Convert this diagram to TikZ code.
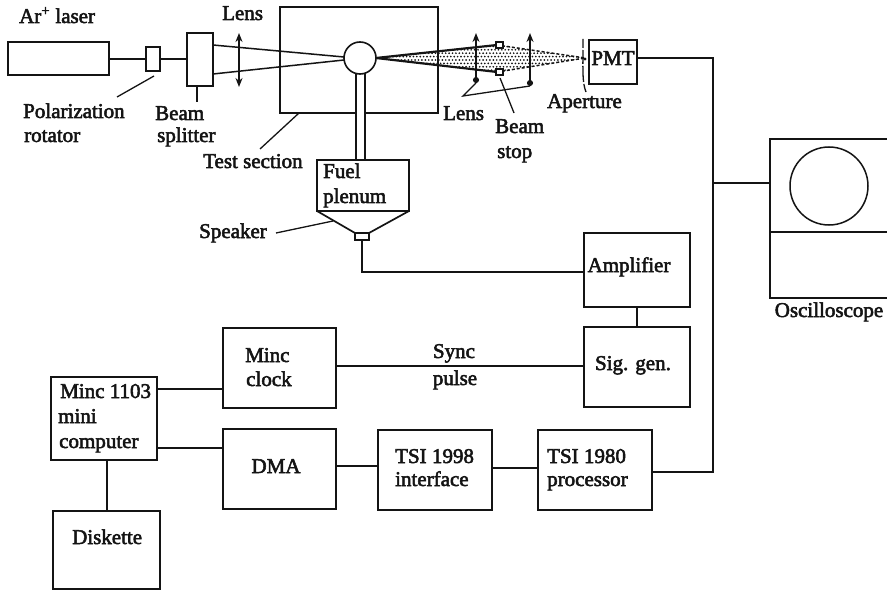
\documentclass[tikz,border=0pt]{standalone}
\usepackage{fontspec}
\setmainfont{Liberation Serif}[RawFeature={embolden=2.5}]
\usetikzlibrary{patterns,arrows.meta}
\tikzset{
  box/.style={draw=ink,line width=1.5pt,fill=white,rectangle,inner sep=0pt,outer sep=0pt},
  lbl/.style={font=\fontsize{21}{21}\selectfont,text=ink,inner sep=0pt,anchor=base west},
  clbl/.style={font=\fontsize{21}{21}\selectfont,text=ink,inner sep=0pt,anchor=base},
  wire/.style={draw=ink,line width=1.5pt},
  thin wire/.style={draw=ink,line width=1.3pt},
  lensarrow/.style={draw=ink,line width=1.7pt}
}
\definecolor{ink}{HTML}{141414}
\newcommand{\bx}[6][]{\node[box,#1,minimum width=#4-#3,minimum height=#6-#5] (#2) at ({(#3+#4)/2},{(#5+#6)/2}) {};}
\begin{document}
\begin{tikzpicture}[x=1pt,y=-1pt]
\useasboundingbox (0,0) rectangle (887,591);
% test section
\bx{test}{280}{438}{7}{113}
% beams through the test section
\coordinate (bs1) at (213,45); \coordinate (bs2) at (213,74);
\coordinate (f1) at (344,57); \coordinate (f2) at (344,60);
\draw[wire] (bs1) -- (f1); \draw[wire] (bs2) -- (f2);
% collection cone
\coordinate (c0) at (376,58); \coordinate (c1) at (497,45); \coordinate (c2) at (497,72);
\coordinate (c3) at (585,58);
\begin{scope}
\clip (c0) -- (c1) -- (c3) -- (c2) -- cycle;
\foreach \i in {0,...,60}{\foreach \j in {0,...,9}{
  \fill[ink] ({376+\i*3.4+mod(\j,2)*1.7},{43+\j*3.4}) circle (0.95pt);
}}
\end{scope}
\draw[wire,line width=2.2pt] (c0) -- (c1);
\draw[wire,line width=2.2pt] (c0) -- (c2);
\draw[wire,dash pattern=on 3pt off 2pt] (c1) -- (c3);
\draw[wire,dash pattern=on 3pt off 2pt] (c2) -- (c3);
% tube
\bx[line width=1.2pt]{tube}{356}{365}{70}{160}
\node[draw=ink,line width=1.6pt,fill=white,circle,minimum size=32pt,inner sep=0pt] (jet) at (360,58) {};
% optics
\bx{laser}{8}{109}{42}{75}
\bx{rot}{146}{160}{47}{71}
\bx{split}{187}{213}{33}{86}
\draw[wire] (laser.east |- rot.west) -- (rot.west);
\draw[wire] (rot.east) -- (split.west |- rot.east);
\coordinate (l1t) at (239,33); \coordinate (l1b) at (239,87);
\draw[lensarrow,{Stealth[length=9pt,width=7pt]}-{Stealth[length=9pt,width=7pt]}] (l1t) -- (l1b);
\coordinate (l2t) at (476,33); \coordinate (l2b) at (476,83);
\draw[lensarrow,{Stealth[length=9pt,width=7pt]}-{Circle[length=6pt]}] (l2t) -- (l2b);
\coordinate (l3t) at (530,33); \coordinate (l3b) at (530,86);
\draw[lensarrow,{Stealth[length=9pt,width=7pt]}-{Circle[length=6pt]}] (l3t) -- (l3b);
\bx[line width=1.2pt]{st1}{496}{503}{42}{48}
\bx[line width=1.2pt]{st2}{496}{503}{69}{75}
\draw[ink,line width=1.3pt,dash pattern=on 9pt off 2pt on 14pt off 2pt on 16pt off 2pt] (583,39) .. controls (583,70) and (582,82) .. (586,92);
\bx{pmt}{589}{637}{40}{84}
\node[clbl] (pmtl) at (613,65) {PMT};
\fill[ink] (585,59) circle (1.6pt);
% leaders
\coordinate (q1) at (154,76); \coordinate (q2) at (117,97);
\draw[thin wire] (q1) -- (q2);
\coordinate (q3) at (197,86); \coordinate (q4) at (197,102);
\draw[thin wire] (q3) -- (q4);
\coordinate (q5) at (299,113); \coordinate (q6) at (260,149);
\draw[thin wire] (q5) -- (q6);
\coordinate (q7) at (463,96);
\draw[thin wire] (l2b) -- (q7) -- (l3b);
\coordinate (q8) at (500,78); \coordinate (q9) at (514,113);
\draw[thin wire] (q8) -- (q9);
\coordinate (q10) at (276,233); \coordinate (q11) at (333,221);
\draw[thin wire] (q10) -- (q11);
% plenum
\bx{plen}{317}{409}{160}{211}
\bx[line width=1.2pt]{spk}{355}{369}{233}{240}
\draw[wire,line width=1.7pt] (plen.south west) -- (spk.north west);
\draw[wire,line width=1.7pt] (plen.south east) -- (spk.north east);
% electronics
\bx{amp}{584}{690}{233}{307}
\bx{sig}{584}{690}{327}{407}
\bx{clock}{223}{336}{328}{408}
\bx{minc}{51}{157}{377}{460}
\bx{disk}{53}{160}{511}{589}
\bx{dma}{223}{336}{429}{509}
\bx{tsia}{378}{492}{430}{510}
\bx{tsib}{538}{652}{430}{510}
\bx{osc}{770}{895}{139}{298}
\coordinate (os1) at (770,232); \coordinate (os2) at (895,232);
\draw[wire] (os1) -- (os2);
\node[draw=ink,line width=1.5pt,circle,minimum size=78pt,inner sep=0pt] (oscc) at (829,186) {};
% wiring
\coordinate (w1) at (362,272);
\draw[wire] (spk.south) -- (w1) -- (amp.west |- w1);
\draw[wire] (amp.south) -- (sig.north);
\coordinate (w2) at (336,366);
\draw[wire] (w2) -- (sig.west |- w2);
\coordinate (bus) at (713,58); \coordinate (busb) at (713,472);
\draw[wire] (pmt.east |- bus) -- (bus) -- (busb) -- (tsib.east |- busb);
\coordinate (tap) at (713,183);
\draw[wire] (tap) -- (osc.west |- tap);
\coordinate (m1) at (157,389); \coordinate (m2) at (157,448);
\draw[wire] (m1) -- (clock.west |- m1);
\draw[wire] (m2) -- (dma.west |- m2);
\coordinate (b1) at (336,466); \coordinate (b2) at (492,468);
\draw[wire] (b1) -- (tsia.west |- b1);
\draw[wire] (b2) -- (tsib.west |- b2);
\coordinate (m3) at (107,460); \coordinate (m4) at (107,511);
\draw[wire] (m3) -- (m4);
% labels
\node[lbl] (t1) at (19,23) {Ar\textsuperscript{+} laser};
\node[lbl] (t2) at (222,20) {Lens};
\node[lbl] (t3) at (23,118) {Polarization};
\node[lbl] (t4) at (24,142) {rotator};
\node[lbl] (t5) at (155,120) {Beam};
\node[lbl] (t6) at (157,142) {splitter};
\node[lbl] (t7) at (203,168) {Test section};
\node[lbl] (t8) at (443,120) {Lens};
\node[lbl] (t9) at (495,133) {Beam};
\node[lbl] (t10) at (497,158) {stop};
\node[lbl] (t11) at (547,108) {Aperture};
\node[lbl] (t12) at (323,178) {Fuel};
\node[lbl] (t13) at (323,203) {plenum};
\node[lbl] (t14) at (199,238) {Speaker};
\node[clbl] (t15) at (629,272) {Amplifier};
\node[clbl] (t16) at (633,370) {Sig. gen.};
\node[clbl] (t17) at (454,358) {Sync};
\node[clbl] (t18) at (455,385) {pulse};
\node[lbl] (t19) at (245,362) {Minc};
\node[lbl] (t20) at (246,386) {clock};
\node[lbl] (t21) at (60,398) {Minc 1103};
\node[lbl] (t22) at (58,423) {mini};
\node[lbl] (t23) at (59,448) {computer};
\node[clbl] (t24) at (276,473) {DMA};
\node[lbl] (t25) at (395,463) {TSI 1998};
\node[lbl] (t26) at (395,486) {interface};
\node[lbl] (t27) at (547,463) {TSI 1980};
\node[lbl] (t28) at (547,486) {processor};
\node[lbl] (t29) at (72,544) {Diskette};
\node[clbl] (t30) at (829,317) {Oscilloscope};
\end{tikzpicture}
\end{document}
